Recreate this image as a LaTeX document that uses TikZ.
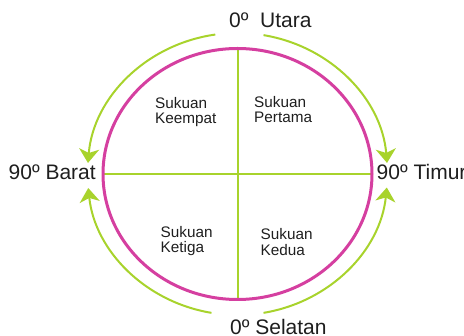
\documentclass[tikz,border=0pt]{standalone}
\usepackage{fontspec}
\setmainfont{Liberation Sans}
\usetikzlibrary{arrows.meta}
\definecolor{rim}{HTML}{D53FA0}
\definecolor{lime}{HTML}{A8D32C}
\definecolor{ink}{HTML}{1E1E1E}
\tikzset{
  bigtext/.style={inner sep=0pt, anchor=base west, text=ink, font=\fontsize{21}{24}\selectfont},
  smalltext/.style={inner sep=0pt, anchor=base west, text=ink, font=\fontsize{15.3}{18}\selectfont},
  ring/.style={draw=rim, line width=3pt},
  cross/.style={draw=lime, line width=2pt},
  turn/.style={draw=lime, line width=2pt, -{Stealth[length=14pt, width=20pt, inset=4pt]}}
}
\begin{document}
\begin{tikzpicture}[x=1pt, y=-1pt]
\useasboundingbox (0,0) rectangle (464,336);
\coordinate (c) at (237.5,174);
% quadrant cross
\coordinate (n) at (237.5,49);
\coordinate (s) at (237.5,300);
\coordinate (w) at (103,174);
\coordinate (e) at (372,174);
\draw[cross] (n) -- (s);
\draw[cross] (w) -- (e);
% magenta ring
\draw[ring] (c) ellipse [x radius=134.5pt, y radius=125.5pt];
% green turning arcs
\draw[turn] (c) ++(98.5:150pt and 141pt) arc[start angle=98.5, end angle=175.5, x radius=150pt, y radius=141pt];
\draw[turn] (c) ++(80:150pt and 141pt) arc[start angle=80, end angle=4.5, x radius=150pt, y radius=141pt];
\draw[turn] (c) ++(260:150pt and 141pt) arc[start angle=260, end angle=185.7, x radius=150pt, y radius=141pt];
\draw[turn] (c) ++(-80:150pt and 141pt) arc[start angle=-80, end angle=-5.5, x radius=150pt, y radius=141pt];
% direction labels
\node[bigtext] (utara) at (229,27.5) {0º\ \ Utara};
\node[bigtext] (barat) at (8.5,179.5) {90º Barat};
\node[bigtext] (timur) at (376.5,180) {90º Timur};
\node[bigtext] (selatan) at (230,335) {0º Selatan};
% quadrant labels
\node[smalltext] (q4a) at (155,109) {Sukuan};
\node[smalltext] (q4b) at (155,124) {Keempat};
\node[smalltext] (q1a) at (254,108) {Sukuan};
\node[smalltext] (q1b) at (254,123) {Pertama};
\node[smalltext] (q3a) at (160.5,238) {Sukuan};
\node[smalltext] (q3b) at (160.5,253) {Ketiga};
\node[smalltext] (q2a) at (260.5,240) {Sukuan};
\node[smalltext] (q2b) at (260.5,256) {Kedua};
\end{tikzpicture}
\end{document}
